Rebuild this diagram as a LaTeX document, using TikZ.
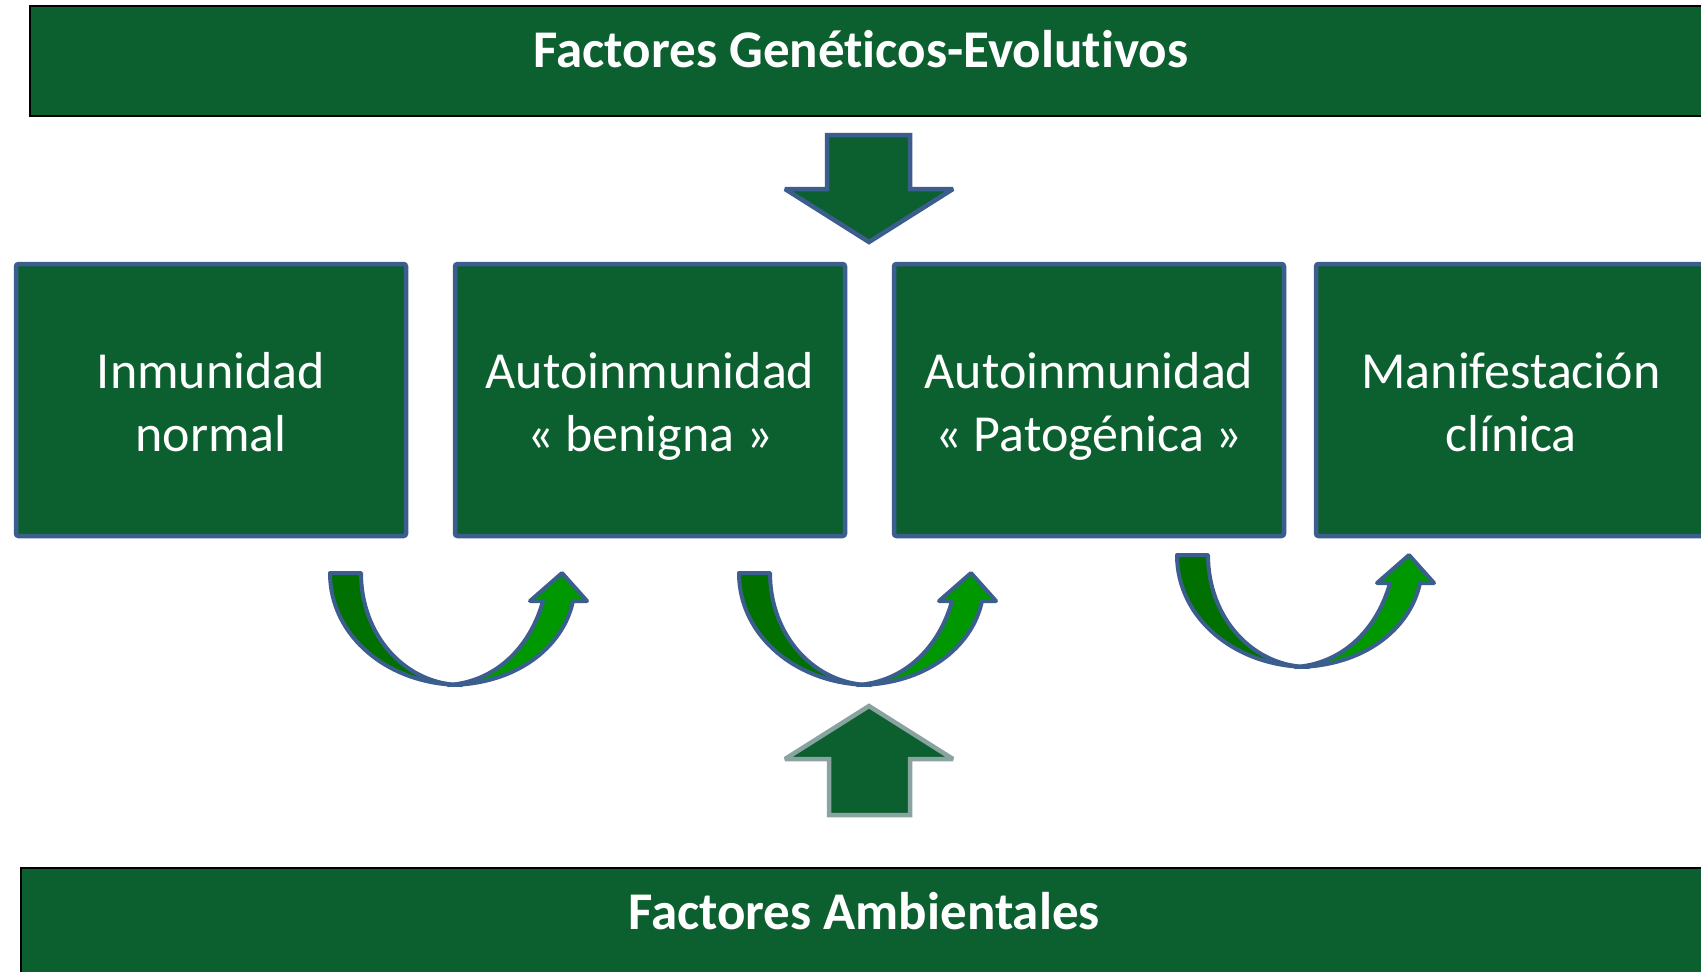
\documentclass[tikz,border=0pt]{standalone}
\usepackage{fontspec}
\setmainfont{Carlito}[Ligatures=CommonOff]
\definecolor{dkgreen}{RGB}{12,96,48}
\definecolor{bblue}{RGB}{59,94,142}
\definecolor{crvL}{RGB}{0,112,0}
\definecolor{crvR}{RGB}{0,152,0}
\definecolor{ggray}{RGB}{137,163,160}
\tikzset{
  bar/.style={fill=dkgreen,draw=black,line width=2pt},
  bartxt/.style={text=white,font=\fontsize{53}{64}\selectfont\bfseries,inner sep=0pt,anchor=base},
  stagebox/.style={fill=dkgreen,draw=bblue,line width=4.5pt,rounded corners=2.5pt,
     minimum width=390pt,minimum height=272pt,inner sep=0pt},
  boxtxt/.style={text=white,font=\fontsize{52}{63}\selectfont,inner sep=0pt,anchor=base},
  blockarrow/.style={fill=dkgreen,line width=4.5pt,line join=miter,miter limit=2},
  crv/.style={draw=bblue,line width=4pt,line join=round},
  uarrow/.pic={
    \path[crv,fill=crvL] (0,0) -- (31,0) .. controls (31,63) and (76,112) .. (132,112)
        .. controls (58,112) and (0,63) .. (0,0) -- cycle;
    \path[crv,fill=crvR] (118,112) .. controls (185,112) and (233,75) .. (243,28)
        -- (257,28) -- (232,0) -- (200,28) -- (213,28)
        .. controls (200,75) and (165,109) .. (118,112) -- cycle;
  }
}
\begin{document}
\begin{tikzpicture}[x=1pt,y=-1pt]
\useasboundingbox (0,0) rectangle (1701,972);
% top bar
\path[bar] (30,6) rectangle (1720,116);
\node[bartxt] (gen) at (861,67) {Factores Genéticos-Evolutivos};
% bottom bar
\path[bar] (21,868) rectangle (1720,990);
\node[bartxt] (amb) at (864,929) {Factores Ambientales};
% boxes
\node[stagebox] (b1) at (211,400) {};
\node[stagebox] (b2) at (650,400) {};
\node[stagebox] (b3) at (1089,400) {};
\node[stagebox] (b4) at (1511,400) {};
\node[boxtxt] (t1a) at ([yshift=12pt]b1.center) {Inmunidad};
\node[boxtxt] (t1b) at ([yshift=-51pt]b1.center) {normal};
\node[boxtxt] (t2a) at ([yshift=12pt]b2.center) {Autoinmunidad};
\node[boxtxt] (t2b) at ([yshift=-51pt]b2.center) {« benigna »};
\node[boxtxt] (t3a) at ([yshift=12pt]b3.center) {Autoinmunidad};
\node[boxtxt] (t3b) at ([yshift=-51pt]b3.center) {« Patogénica »};
\node[boxtxt] (t4a) at ([yshift=12pt]b4.center) {Manifestación};
\node[boxtxt] (t4b) at ([yshift=-51pt]b4.center) {clínica};
% top block arrow
\path[blockarrow,draw=bblue] (827,135) -- (910,135) -- (910,189) -- (953,189) -- (869,242)
   -- (785,189) -- (827,189) -- cycle;
% bottom block arrow
\path[blockarrow,draw=ggray] (869,706) -- (953,759) -- (910,759) -- (910,815) -- (829,815)
   -- (829,759) -- (785,759) -- cycle;
% curved arrows
\pic at (330,573) {uarrow};
\pic at (739,573) {uarrow};
\pic at (1177,555) {uarrow};
\end{tikzpicture}
\end{document}
